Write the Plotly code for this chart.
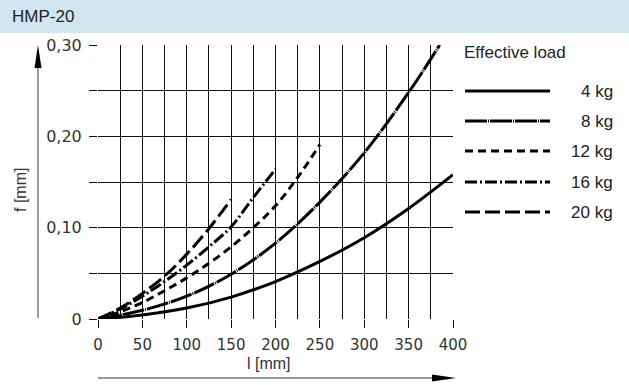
import plotly.graph_objects as go

# ---- data ----
title_text = "HMP-20"
legend_title = "Effective load"
series_names = ["4 kg", "8 kg", "12 kg", "16 kg", "20 kg"]

l_4 = [0, 50, 100, 150, 200, 250, 300, 350, 400]
f_4 = [0, 0.0045, 0.012, 0.024, 0.041, 0.063, 0.089, 0.121, 0.158]

l_8 = [0, 50, 100, 150, 200, 250, 300, 350, 385]
f_8 = [0, 0.0095, 0.025, 0.049, 0.083, 0.128, 0.182, 0.248, 0.30]

l_12 = [0, 25, 50, 75, 100, 125, 150, 175, 200, 225, 250]
f_12 = [0, 0.008, 0.018, 0.031, 0.045, 0.061, 0.079, 0.100, 0.124, 0.155, 0.191]

l_16 = [0, 25, 50, 75, 100, 125, 150, 175, 200]
f_16 = [0, 0.011, 0.025, 0.041, 0.059, 0.079, 0.101, 0.133, 0.164]

l_20 = [0, 25, 50, 75, 100, 125, 150]
f_20 = [0, 0.012, 0.028, 0.047, 0.071, 0.099, 0.131]

x_ticks = [0, 50, 100, 150, 200, 250, 300, 350, 400]
x_ticklabels = ["0", "50", "100", "150", "200", "250", "300", "350", "400"]
y_ticks = [0, 0.10, 0.20, 0.30]
y_ticklabels = ["0", "0,10", "0,20", "0,30"]
x_title = "l [mm]"
y_title = "f [mm]"

# ---- styling ----
dashes = ["solid", "22px,1px,1px,1px", "8px,5px", "12px,3px,2px,3px", "15px,5px"]
LW = 3
W, H = 629, 385
ML, MR, MT, MB = 98, 629 - 453, 45, 385 - 319
PW, PH = W - ML - MR, H - MT - MB


def px(xp):
    return (xp - ML) / PW


def py(yp):
    return (H - MB - yp) / PH


TXT = "#333333"
LIB = "Liberation Sans, Arial"
DJ = "DejaVu Sans"

fig = go.Figure()
for lx, fy, dash, name in zip([l_4, l_8, l_12, l_16, l_20],
                              [f_4, f_8, f_12, f_16, f_20], dashes, series_names):
    fig.add_trace(go.Scatter(x=lx, y=fy, mode="lines", name=name,
                             line=dict(color="black", width=LW, dash=dash,
                                       shape="spline", smoothing=1.0),
                             showlegend=False, hoverinfo="skip"))

shapes = []
annotations = []

# header band
shapes.append(dict(type="rect", xref="paper", yref="paper",
                   x0=px(0), x1=px(W), y0=py(33), y1=py(0),
                   fillcolor="#d1e6f1", line=dict(width=0), layer="below"))
annotations.append(dict(text=title_text, xref="paper", yref="paper",
                        x=px(10), y=py(17), xanchor="left", yanchor="middle",
                        showarrow=False, font=dict(family=LIB, size=17, color="#222")))

# y arrow
shapes.append(dict(type="line", xref="paper", yref="paper",
                   x0=px(38), x1=px(38), y0=py(318), y1=py(60),
                   line=dict(color="#555", width=1.2)))
shapes.append(dict(type="path", xref="paper", yref="paper",
                   path=f"M {px(38)},{py(45)} L {px(34.5)},{py(68)} L {px(41.5)},{py(68)} Z",
                   fillcolor="black", line=dict(width=0)))
# x arrow
shapes.append(dict(type="line", xref="paper", yref="paper",
                   x0=px(98), x1=px(440), y0=py(378), y1=py(378),
                   line=dict(color="#333", width=1.2)))
shapes.append(dict(type="path", xref="paper", yref="paper",
                   path=f"M {px(456)},{py(378)} L {px(432)},{py(374.5)} L {px(432)},{py(381.5)} Z",
                   fillcolor="black", line=dict(width=0)))

# axis titles
annotations.append(dict(text=y_title, xref="paper", yref="paper", x=px(20), y=py(190),
                        textangle=-90, showarrow=False, xanchor="center", yanchor="middle",
                        font=dict(family=LIB, size=16, color=TXT)))
annotations.append(dict(text=x_title, xref="paper", yref="paper", x=px(269), y=py(363),
                        showarrow=False, xanchor="center", yanchor="middle",
                        font=dict(family=LIB, size=16, color=TXT)))

# legend
annotations.append(dict(text=legend_title, xref="paper", yref="paper", x=px(462), y=py(52),
                        showarrow=False, xanchor="left", yanchor="middle",
                        font=dict(family=LIB, size=17, color="#222")))
rows = [91, 121, 151, 182, 212]
for yy, dash, name in zip(rows, dashes, series_names):
    shapes.append(dict(type="line", xref="paper", yref="paper",
                       x0=px(465), x1=px(550), y0=py(yy), y1=py(yy),
                       line=dict(color="black", width=LW, dash=dash)))
    annotations.append(dict(text=name, xref="paper", yref="paper", x=px(615), y=py(yy),
                            showarrow=False, xanchor="right", yanchor="middle",
                            font=dict(family=LIB, size=17, color="#222")))

fig.update_layout(
    width=W, height=H, margin=dict(l=ML, r=MR, t=MT, b=MB),
    paper_bgcolor="white", plot_bgcolor="white",
    shapes=shapes, annotations=annotations,
    xaxis=dict(range=[0, 400], tickvals=x_ticks, ticktext=x_ticklabels,
               showgrid=True, gridcolor="#111", gridwidth=1, zeroline=False,
               ticks="outside", ticklen=8, tickcolor="#111", tickwidth=1,
               ticklabelstandoff=4,
               minor=dict(dtick=25, showgrid=True, gridcolor="#111", gridwidth=1),
               tickfont=dict(family=DJ, size=15, color=TXT), showline=False, fixedrange=True),
    yaxis=dict(range=[0, 0.30], tickvals=y_ticks, ticktext=y_ticklabels,
               showgrid=True, gridcolor="#111", gridwidth=1, zeroline=False,
               ticks="outside", ticklen=8, tickcolor="#111", tickwidth=1,
               ticklabelstandoff=4,
               minor=dict(tickvals=[0.05, 0.15, 0.25], showgrid=True, gridcolor="#111",
                          gridwidth=1, ticks="outside", ticklen=8, tickcolor="#111"),
               tickfont=dict(family=DJ, size=16, color=TXT), showline=False, fixedrange=True),
)

fig.write_html("out.html")
